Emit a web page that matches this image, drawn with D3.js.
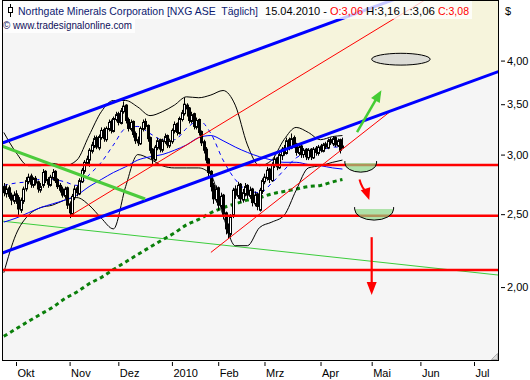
<!DOCTYPE html>
<html><head><meta charset="utf-8">
<script src="https://cdn.jsdelivr.net/npm/d3@7"></script>
<style>
body{margin:0;background:#fff}
svg{display:block}
text{font-family:"Liberation Sans",Arial,sans-serif;white-space:pre}
</style>
</head><body>
<svg id="c" width="530" height="380"></svg>
<script>
// ---------------- DATA ----------------
const firstDate = "2009-09-24";
const holidays = ["2009-11-26","2009-12-25","2010-01-01","2010-01-18","2010-02-15","2010-04-02","2010-05-31","2010-07-05"];
const open = [
2.72,2.66,2.71,2.65,2.60,2.66,2.63,2.53,2.60,2.70,
2.76,2.81,2.73,2.79,2.76,2.69,2.73,2.85,2.78,2.73,
2.79,2.85,2.78,2.73,2.70,2.64,2.71,2.58,2.50,2.63,
2.71,2.66,2.76,2.85,2.92,2.95,3.03,3.08,3.16,3.06,
3.16,3.24,3.14,3.24,3.32,3.22,3.34,3.40,3.30,3.42,
3.49,3.34,3.24,3.32,3.20,3.14,3.10,3.24,3.32,3.28,
3.16,3.05,2.95,3.06,3.14,3.04,3.12,3.18,3.08,3.12,
3.22,3.30,3.20,3.34,3.40,3.49,3.46,3.32,3.40,3.26,
3.34,3.22,3.12,3.05,2.96,2.85,2.73,2.61,2.71,2.56,
2.65,2.51,2.40,2.35,2.49,2.70,2.64,2.74,2.61,2.66,
2.73,2.64,2.70,2.58,2.66,2.53,2.68,2.76,2.79,2.87,
2.77,2.90,2.97,2.88,2.99,3.06,3.01,3.14,3.06,3.16,
3.10,3.01,3.08,3.00,3.05,2.97,3.05,2.97,3.06,3.01,
3.08,3.03,3.10,3.06,3.14,3.10,3.16,3.08,3.14,3.06];
const high = [
2.75,2.74,2.73,2.67,2.68,2.69,2.65,2.63,2.72,2.80,
2.83,2.83,2.80,2.81,2.77,2.75,2.87,2.86,2.80,2.82,
2.87,2.86,2.79,2.75,2.72,2.72,2.72,2.60,2.66,2.73,
2.73,2.79,2.88,2.95,2.99,3.06,3.12,3.18,3.18,3.19,
3.26,3.26,3.27,3.34,3.34,3.37,3.42,3.42,3.46,3.53,
3.50,3.36,3.34,3.33,3.22,3.17,3.27,3.34,3.35,3.29,
3.17,3.06,3.09,3.16,3.15,3.15,3.20,3.19,3.15,3.25,
3.32,3.31,3.37,3.44,3.57,3.51,3.47,3.42,3.41,3.36,
3.35,3.23,3.14,3.07,2.97,2.86,2.75,2.73,2.72,2.67,
2.66,2.52,2.43,2.50,2.71,2.73,2.76,2.75,2.70,2.75,
2.74,2.72,2.71,2.68,2.67,2.71,2.79,2.83,2.89,2.88,
2.93,2.99,2.98,3.02,3.07,3.09,3.16,3.16,3.20,3.18,
3.11,3.09,3.09,3.06,3.06,3.06,3.06,3.07,3.08,3.09,
3.10,3.11,3.12,3.15,3.16,3.17,3.17,3.15,3.15,3.16];
const low = [
2.64,2.63,2.62,2.57,2.58,2.58,2.48,2.51,2.58,2.68,
2.74,2.71,2.71,2.73,2.67,2.67,2.71,2.75,2.71,2.72,
2.77,2.75,2.70,2.67,2.63,2.62,2.54,2.47,2.49,2.61,
2.64,2.65,2.75,2.83,2.90,2.89,3.01,3.06,3.05,3.04,
3.14,3.12,3.12,3.22,3.20,3.21,3.32,3.28,3.29,3.40,
3.30,3.22,3.22,3.16,3.10,3.08,3.09,3.22,3.24,3.12,
3.01,2.91,2.94,3.04,3.02,3.02,3.10,3.06,3.06,3.10,
3.20,3.18,3.19,3.32,3.38,3.37,3.30,3.30,3.24,3.24,
3.18,3.08,3.01,2.92,2.80,2.68,2.58,2.59,2.53,2.54,
2.46,2.35,2.32,2.33,2.47,2.62,2.62,2.59,2.59,2.64,
2.62,2.62,2.56,2.56,2.53,2.52,2.66,2.74,2.77,2.75,
2.76,2.88,2.86,2.87,2.95,2.99,3.00,3.04,3.05,3.06,
2.99,2.99,2.97,2.97,2.95,2.95,2.95,2.96,2.99,2.99,
3.02,3.02,3.05,3.05,3.09,3.08,3.07,3.07,3.01,3.06];
const close = [
2.67,2.70,2.64,2.61,2.65,2.62,2.54,2.61,2.70,2.77,
2.80,2.74,2.78,2.75,2.70,2.72,2.84,2.77,2.74,2.80,
2.84,2.77,2.72,2.69,2.65,2.70,2.57,2.51,2.64,2.70,
2.67,2.77,2.86,2.93,2.96,3.04,3.09,3.15,3.07,3.17,
3.23,3.15,3.25,3.31,3.23,3.35,3.39,3.31,3.43,3.48,
3.33,3.25,3.31,3.19,3.13,3.11,3.25,3.31,3.27,3.15,
3.04,2.96,3.07,3.13,3.05,3.13,3.17,3.09,3.13,3.23,
3.29,3.21,3.35,3.41,3.50,3.45,3.33,3.39,3.27,3.33,
3.21,3.11,3.04,2.95,2.84,2.72,2.62,2.70,2.57,2.64,
2.50,2.39,2.36,2.48,2.69,2.65,2.73,2.62,2.67,2.72,
2.65,2.69,2.59,2.65,2.56,2.69,2.77,2.80,2.86,2.78,
2.91,2.96,2.89,3.00,3.05,3.02,3.13,3.07,3.15,3.09,
3.02,3.07,3.00,3.04,2.98,3.04,2.98,3.05,3.02,3.07,
3.04,3.09,3.07,3.13,3.11,3.15,3.09,3.13,3.04,3.08];

// indicator readings, one every 5 trading days from the first candle, plus the last one
const bbUpper  = [3.21,3.02,2.90,2.90,2.92,2.90,2.95,3.18,3.42,3.54,3.54,3.47,3.38,3.42,3.49,3.58,3.57,3.60,3.65,3.49,3.09,2.90,2.95,3.14,3.26,3.21,3.14,3.17,3.18];
const bbLower  = [2.09,2.35,2.49,2.55,2.57,2.61,2.63,2.57,2.47,2.39,2.72,3.00,2.96,2.90,2.88,2.88,2.88,2.82,2.49,2.27,2.27,2.40,2.44,2.49,2.69,2.88,2.90,2.93,2.95];
const maSlow   = [2.44,2.47,2.51,2.55,2.58,2.61,2.65,2.72,2.78,2.84,2.89,2.95,2.98,3.00,3.04,3.09,3.16,3.18,3.13,3.07,3.02,2.98,2.95,2.93,2.93,2.91,2.90,2.88,2.87];
const maFast   = [2.73,2.75,2.76,2.78,2.78,2.76,2.73,2.82,2.93,3.09,3.25,3.27,3.20,3.14,3.14,3.25,3.33,3.20,2.95,2.78,2.69,2.67,2.75,2.86,2.97,3.02,3.04,3.07,3.07];
const maLong   = [1.72,1.76,1.80,1.84,1.88,1.93,1.97,2.02,2.06,2.11,2.16,2.21,2.26,2.31,2.36,2.42,2.46,2.51,2.55,2.58,2.61,2.63,2.66,2.68,2.70,2.72,2.73,2.76,2.78];

// drawn trend lines [date, price]
const channelUpper = [["2009-09-23",3.105],["2010-07-16",5.42]];
const channelLower = [["2009-09-23",2.218],["2010-07-16",3.868]];
const greenDown    = [["2009-09-23",3.081],["2009-12-16",2.618]];
const greenThin    = [["2009-09-23",2.448],["2010-07-16",2.075]];
const redThin1     = [["2009-11-02",2.485],["2010-07-16",5.52]];
const redThin2     = [["2010-01-27",2.224],["2010-05-13",3.43]];
const levels       = [2.906, 2.488, 2.107];

// annotations
const noteEllipse = {d1:"2010-05-03", d2:"2010-06-07", pTop:4.09, pBot:3.945};
const arrowUp     = [["2010-04-23",3.213],["2010-05-07",3.654]];
const bowl1       = {d1:"2010-04-16", d2:"2010-05-05", pTop:2.923, pBot:2.843};
const arrowCurve  = [["2010-04-26",2.78],["2010-04-27",2.70],["2010-04-30",2.61]];
const bowl2       = {d1:"2010-04-22", d2:"2010-05-14", pTop:2.539, pBot:2.455};
const arrowDown   = [["2010-05-03",2.33],["2010-05-03",1.952]];

const monthTicks = [["2009-10-01","Okt"],["2009-11-02","Nov"],["2009-12-01","Dez"],["2010-01-04","2010"],["2010-02-01","Feb"],["2010-03-01","Mrz"],["2010-04-01","Apr"],["2010-05-03","Mai"],["2010-06-01","Jun"],["2010-07-01","Jul"]];
const priceTicks = [2.0, 2.5, 3.0, 3.5, 4.0];

// ---------------- SETUP ----------------
const svg = d3.select("#c");
const days = [];
for (let t = Date.UTC(2009,8,21); t <= Date.UTC(2010,7,31); t += 864e5) {
  const d = new Date(t), wd = d.getUTCDay(), s = d.toISOString().slice(0,10);
  if (wd > 0 && wd < 6 && !holidays.includes(s)) days.push(s);
}
const di = new Map(days.map((d,i)=>[d,i]));
const x = d3.scaleLinear().domain([di.get("2009-10-01"), di.get("2010-07-01")]).range([16,474]);
const X = d => x(di.get(d));
const y = d3.scaleLog().domain([1.6,4.8]).range([360,1]);
const P = {x0:2, x1:498, y0:0, y1:360};
const start = di.get(firstDate);
const cDates = close.map((_,k)=>days[start+k]);
const sampleK = d3.range(0, close.length-1, 5).concat([close.length-1]);

svg.append("rect").attr("width",530).attr("height",380).attr("fill","#fff");
svg.append("defs").append("clipPath").attr("id","clip").append("rect")
  .attr("x",P.x0).attr("y",P.y0).attr("width",P.x1-P.x0).attr("height",P.y1-P.y0);
const g = svg.append("g").attr("clip-path","url(#clip)");
g.append("rect").attr("x",P.x0).attr("y",P.y0).attr("width",P.x1-P.x0).attr("height",P.y1-P.y0).attr("fill","#f5f5f5");

const pt = ([d,p]) => [X(d), y(p)];
// channel fill
const chPoly = [pt(channelUpper[0]), pt(channelUpper[1]), pt(channelLower[1]), pt(channelLower[0])];
g.append("polygon").attr("points", chPoly.map(p=>p.join(",")).join(" ")).attr("fill","#f6f4dc");

function seg(pts, stroke, w, dash){
  const l = g.append("path").attr("d", d3.line()(pts.map(pt))).attr("fill","none")
    .attr("stroke",stroke).attr("stroke-width",w);
  if (dash) l.attr("stroke-dasharray",dash);
  return l;
}
function curve(vals, stroke, w, dash){
  const pts = vals.map((v,i)=>[x(start+sampleK[i]), y(v)]);
  const l = g.append("path").attr("d", d3.line().curve(d3.curveMonotoneX)(pts)).attr("fill","none")
    .attr("stroke",stroke).attr("stroke-width",w);
  if (dash) l.attr("stroke-dasharray",dash);
}

seg(greenThin, "#3ccc3c", 1);
curve(maLong, "#0a7f0a", 3, "4,3.5");
curve(bbUpper, "#000", 1);
curve(bbLower, "#000", 1);
curve(maSlow, "#0000ff", 1);
curve(maFast, "#0000ff", 1, "4,4");

// candles
const cg = g.append("g");
cDates.forEach((d,k)=>{
  const cx = Math.round(X(d));
  cg.append("line").attr("x1",cx+0.5).attr("x2",cx+0.5).attr("y1",y(high[k])).attr("y2",y(low[k]))
    .attr("stroke","#000").attr("stroke-width",1);
  const y1 = y(Math.max(open[k],close[k])), y2 = y(Math.min(open[k],close[k]));
  cg.append("rect").attr("x",cx-0.5).attr("width",2).attr("y",y1).attr("height",Math.max(1,y2-y1))
    .attr("fill", close[k]>=open[k] ? "#fff" : "#000").attr("stroke","#000").attr("stroke-width",1);
});

// horizontal levels
levels.forEach(v=>{
  g.append("line").attr("x1",P.x0).attr("x2",P.x1).attr("y1",y(v)).attr("y2",y(v))
    .attr("stroke","#ff0000").attr("stroke-width",2.6);
});
seg(redThin1, "#ff0000", 1);
seg(redThin2, "#ff0000", 1);
seg(channelUpper, "#0000ff", 3);
seg(channelLower, "#0000ff", 3);
seg(greenDown, "#4ccb3c", 3.2);

// annotations
function head(tip, from, len, hw, fill){
  const dx = tip[0]-from[0], dy = tip[1]-from[1], L = Math.hypot(dx,dy), ux = dx/L, uy = dy/L;
  const bx = tip[0]-ux*len, by = tip[1]-uy*len;
  g.append("polygon").attr("points",[[tip[0],tip[1]],[bx-uy*hw,by+ux*hw],[bx+uy*hw,by-ux*hw]].map(p=>p.join(",")).join(" "))
    .attr("fill",fill);
}
{
  const x1 = X(noteEllipse.d1), x2 = X(noteEllipse.d2), yt = y(noteEllipse.pTop), yb = y(noteEllipse.pBot);
  g.append("ellipse").attr("cx",(x1+x2)/2).attr("cy",(yt+yb)/2).attr("rx",(x2-x1)/2).attr("ry",(yb-yt)/2)
    .attr("fill","#dcdcd6").attr("stroke","#000").attr("stroke-width",1);
}
{
  const a = pt(arrowUp[0]), b = pt(arrowUp[1]);
  const dx=b[0]-a[0], dy=b[1]-a[1], L=Math.hypot(dx,dy);
  g.append("line").attr("x1",a[0]).attr("y1",a[1]).attr("x2",b[0]-dx/L*9).attr("y2",b[1]-dy/L*9)
    .attr("stroke","#44cc33").attr("stroke-width",2.5);
  head(b, a, 12, 5, "#44cc33");
}
function bowl(o){
  const x1 = X(o.d1), x2 = X(o.d2), yt = y(o.pTop), yb = y(o.pBot), rx=(x2-x1)/2, ry=yb-yt;
  g.append("path").attr("d",`M${x1},${yt}A${rx},${ry} 0 0 0 ${x2},${yt}Z`).attr("fill","#8cd884").attr("fill-opacity",0.68);
  g.append("path").attr("d",`M${x1},${yt-2}L${x1},${yt}A${rx},${ry} 0 0 0 ${x2},${yt}L${x2},${yt-2}`).attr("fill","none")
    .attr("stroke","#000").attr("stroke-width",1);
}
bowl(bowl1);
bowl(bowl2);
{
  const p = arrowCurve.map(pt);
  g.append("path").attr("d",`M${p[0][0]},${p[0][1]}Q${p[1][0]},${p[1][1]} ${p[2][0]-2},${p[2][1]-8}`)
    .attr("fill","none").attr("stroke","#ff0000").attr("stroke-width",2);
  head(p[2], [p[2][0]-4,p[2][1]-12], 12, 5, "#ff0000");
}
{
  const a = pt(arrowDown[0]), b = pt(arrowDown[1]);
  g.append("line").attr("x1",a[0]).attr("y1",a[1]).attr("x2",b[0]).attr("y2",b[1]-10)
    .attr("stroke","#ff0000").attr("stroke-width",2.2);
  head(b, a, 13, 5, "#ff0000");
}

// title boxes
svg.append("rect").attr("x",3).attr("y",1).attr("width",469).attr("height",18).attr("fill","#fff").attr("fill-opacity",0.78);
svg.append("rect").attr("x",3).attr("y",19).attr("width",132).attr("height",14).attr("fill","#fff").attr("fill-opacity",0.78);
// small candle icon
svg.append("line").attr("x1",10.5).attr("x2",10.5).attr("y1",4).attr("y2",17).attr("stroke","#000");
svg.append("rect").attr("x",8.5).attr("y",7.5).attr("width",4).attr("height",5).attr("fill","#fff").attr("stroke","#000");
const titleSegs = [
  ["Northgate Minerals Corporation [NXG ASE  Täglich]", 18, 240, "#0c1a70"],
  ["15.04.2010 -", 265, 62, "#000"],
  ["O:3,06", 330, 33, "#ff0000"],
  ["H:3,16 L:3,06", 366, 69, "#000"],
  ["C:3,08", 438, 31, "#ff0000"]
];
titleSegs.forEach(([t,x0,len,c])=>{
  svg.append("text").attr("x",x0).attr("y",15).attr("font-size",11).attr("fill",c)
    .attr("textLength",len).attr("lengthAdjust","spacingAndGlyphs").text(t);
});
svg.append("text").attr("x",3).attr("y",29).attr("font-size",11).attr("fill","#10105a")
  .attr("textLength",129).attr("lengthAdjust","spacingAndGlyphs").text("© www.tradesignalonline.com");

// border
svg.append("rect").attr("x",P.x0+0.5).attr("y",P.y0+0.5).attr("width",P.x1-P.x0).attr("height",P.y1-P.y0)
  .attr("fill","none").attr("stroke","#000").attr("stroke-width",1);
// resize grip
svg.append("path").attr("d","M491.5,359.5L497.5,353.5L497.5,359.5Z").attr("fill","#ddd").attr("stroke","#888").attr("stroke-width",0.6);

// axes
const yAxis = d3.axisRight(y).tickValues(priceTicks).tickSize(4).tickPadding(2)
  .tickFormat(v=>d3.format(".2f")(v).replace(".",","));
const ya = svg.append("g").attr("transform",`translate(${P.x1+3},0)`).call(yAxis);
ya.select(".domain").remove();
ya.selectAll("text").attr("font-size",11).attr("fill","#000").attr("font-family","Liberation Sans, Arial, sans-serif");
ya.selectAll("line").attr("stroke","#000");
svg.append("text").attr("x",505).attr("y",15).attr("font-size",11).attr("fill","#000").text("$");

const xAxis = d3.axisBottom(x).tickValues(monthTicks.map(m=>di.get(m[0]))).tickSize(4).tickPadding(3)
  .tickFormat((v,i)=>monthTicks[i][1]);
const xa = svg.append("g").attr("transform",`translate(0,${P.y1+2})`).call(xAxis);
xa.select(".domain").remove();
xa.selectAll("text").attr("font-size",11).attr("fill","#000").attr("text-anchor","start").attr("dx",1)
  .attr("font-family","Liberation Sans, Arial, sans-serif");
xa.selectAll("line").attr("stroke","#000");
</script>
</body></html>
